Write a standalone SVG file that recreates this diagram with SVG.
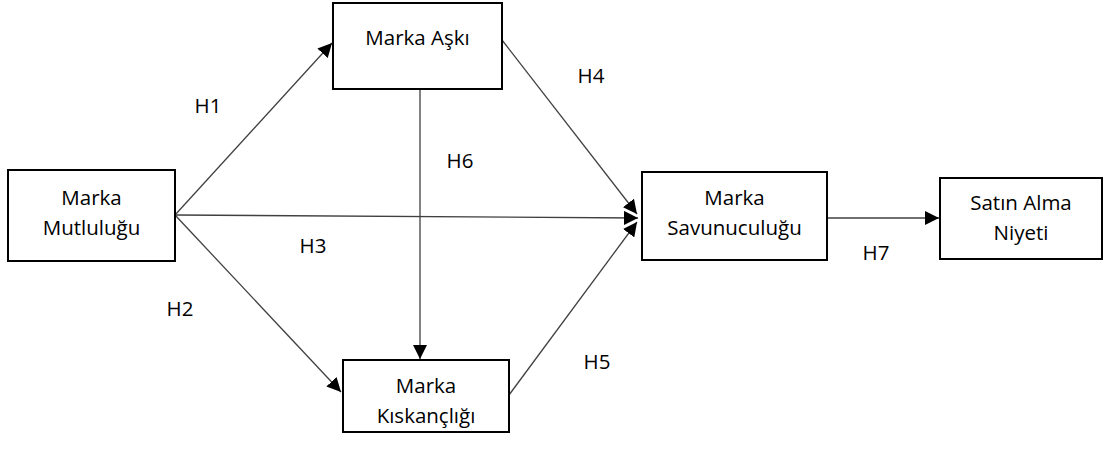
<svg xmlns="http://www.w3.org/2000/svg" width="1105" height="450" viewBox="0 0 1105 450">
<style>
.box{fill:#fff;stroke:#000;stroke-width:2}
.t{font-family:"Open Sans","Noto Sans",sans-serif;font-size:20.5px;fill:#000;text-anchor:middle}
.c{stroke:#404040;stroke-width:1.3;fill:none;marker-end:url(#ah)}
</style>
<defs>
<marker id="ah" viewBox="0 0 10 10" refX="10" refY="5" markerWidth="14" markerHeight="14" markerUnits="userSpaceOnUse" orient="auto">
<path d="M0,0 L10,5 L0,10 z" fill="#000"/>
</marker>
</defs>
<rect width="1105" height="450" fill="#fff"/>
<g id="connectors">
<line class="c" x1="175" y1="215" x2="332" y2="43"/>
<line class="c" x1="175" y1="215" x2="341" y2="392"/>
<line class="c" x1="175" y1="215" x2="638" y2="218"/>
<line class="c" x1="420" y1="89" x2="420" y2="359"/>
<line class="c" x1="502" y1="40" x2="637" y2="214"/>
<line class="c" x1="509" y1="395" x2="637" y2="222"/>
<line class="c" x1="827" y1="218" x2="939" y2="218"/>
<text class="t" x="208" y="113">H1</text>
<text class="t" x="180" y="316">H2</text>
<text class="t" x="313" y="253">H3</text>
<text class="t" x="591" y="83">H4</text>
<text class="t" x="597" y="369">H5</text>
<text class="t" x="460" y="168">H6</text>
<text class="t" x="876" y="260">H7</text>
</g>
<g id="mutlulugu">
<rect class="box" x="8" y="170" width="167" height="91"/>
<text class="t" x="91.5" y="205">Marka</text>
<text class="t" x="91.5" y="235">Mutluluğu</text>
</g>
<g id="aski">
<rect class="box" x="333" y="3" width="169" height="86"/>
<text class="t" x="417.5" y="45">Marka Aşkı</text>
</g>
<g id="kiskancligi">
<rect class="box" x="343" y="360" width="166" height="72"/>
<text class="t" x="426" y="393">Marka</text>
<text class="t" x="426" y="423">Kıskançlığı</text>
</g>
<g id="savunuculugu">
<rect class="box" x="642" y="172" width="185" height="88"/>
<text class="t" x="734.5" y="205">Marka</text>
<text class="t" x="734.5" y="235">Savunuculuğu</text>
</g>
<g id="satinalma">
<rect class="box" x="940" y="178" width="162" height="81"/>
<text class="t" x="1021" y="210">Satın Alma</text>
<text class="t" x="1021" y="240">Niyeti</text>
</g>
</svg>
